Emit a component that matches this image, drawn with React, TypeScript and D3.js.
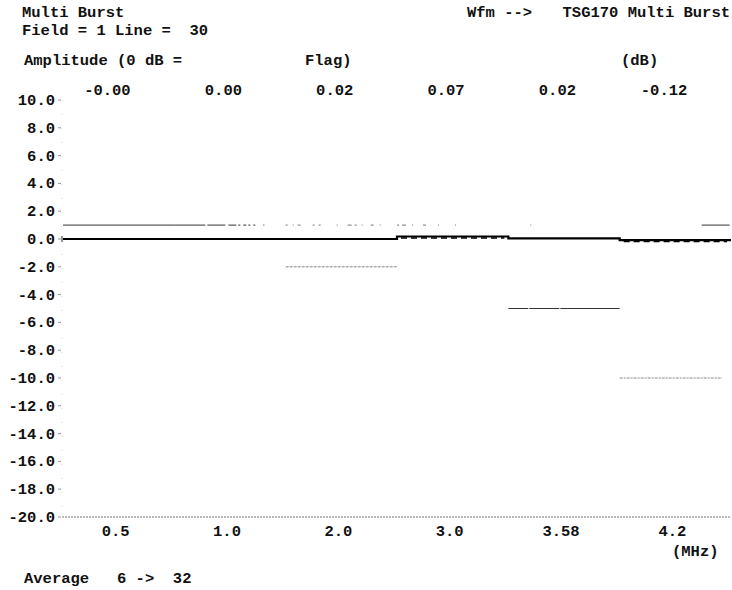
import React from 'react';
import * as d3 from 'd3';

// packets of the multi burst (MHz)
const packets = ['0.5', '1.0', '2.0', '3.0', '3.58', '4.2'];
// amplitude readouts printed above each packet (dB)
const readouts = ['-0.00', '0.00', '0.02', '0.07', '0.02', '-0.12'];
const traceLevels = [0, 0, 0, 0.18, 0.04, -0.08];
// limit lines (dB)
const upperLimit = [1, 1, 1, 1, 1, 1];
const lowerLimit = [null, null, -2, null, -5, -10];
// y axis ticks
const yTicks = d3.range(10, -21, -2);

const W = 732;
const H = 590;
const font = '"Liberation Mono", "Courier New", monospace';

// how the faded printout draws the upper limit in each packet
const upperDash = [
  'none',
  '31 2 18 3 8 2 2 3 3 2 2 3 2 8 1 30',
  '2 5 1 4 3 12 2 4 2 16 1 10 4 3 2 5 1 8 3 6 1 20',
  '2 3 4 6 1 10 3 12 1 16 1 80',
  '0 22 1 200',
  '0 82 28 10',
];
const lowerDash = [null, null, '3 1', null, '20 1 30 1 60', '3 1 2 1'];
const lowerColor = [null, null, '#888', null, '#333', '#888'];
const lowerTrim = [0, 0, 0, 0, 0, 9];

export default function App() {
  const x = d3.scaleBand().domain(packets).range([63, 731]);
  const y = d3.scaleLinear().domain([-20, 10]).range([517, 100]);
  const bw = x.bandwidth();

  // step trace through every packet
  const pts: [number, number][] = [];
  packets.forEach((p, i) => {
    pts.push([x(p)!, traceLevels[i]]);
    pts.push([x(p)! + bw, traceLevels[i]]);
  });
  const line = d3.line<[number, number]>().x(d => d[0]).y(d => y(d[1]));

  const txt = { fontFamily: font, fontSize: 15.5, fontWeight: 700, fill: '#111' } as const;

  return (
    <svg width={W} height={H} style={{ position: 'absolute', left: 0, top: 0, background: '#fff' }}>
      <text x={22} y={17} {...txt}>Multi Burst</text>
      <text x={467} y={17} {...txt} xmlSpace="preserve">{'Wfm -->'}</text>
      <text x={730} y={17} {...txt} textAnchor="end">TSG170 Multi Burst</text>
      <text x={22} y={35} {...txt} xmlSpace="preserve">{'Field = 1 Line =  30'}</text>
      <text x={24} y={65} {...txt} xmlSpace="preserve">{'Amplitude (0 dB ='}</text>
      <text x={305} y={65} {...txt}>Flag)</text>
      <text x={621} y={65} {...txt}>(dB)</text>

      {/* readouts above packets */}
      {packets.map((p, i) => (
        <text key={'r' + p} x={x(p)! + bw / 2 + 12} y={95} {...txt} textAnchor="end">{readouts[i]}</text>
      ))}

      {/* y axis labels and ticks */}
      {yTicks.map(t => (
        <g key={'y' + t}>
          <text x={55} y={y(t) + 5} {...txt} textAnchor="end">{t.toFixed(1)}</text>
          <line x1={58} x2={61} y1={y(t)} y2={y(t)} stroke="#999" strokeWidth={1} />
        </g>
      ))}
      <line x1={62} x2={62} y1={y(10)} y2={y(-20)} stroke="#bbb" strokeWidth={0.6} strokeDasharray="1 13" />

      {/* bottom reference line at -20 dB */}
      <line x1={62} x2={731} y1={y(-20)} y2={y(-20)} stroke="#777" strokeWidth={1} strokeDasharray="2 1" />

      {/* upper limit */}
      {packets.map((p, i) => (
        <line key={'u' + p} x1={x(p)!} x2={x(p)! + bw} y1={y(upperLimit[i])} y2={y(upperLimit[i])}
          stroke={i < 2 || i === 5 ? '#333' : '#777'} strokeWidth={1}
          strokeDasharray={upperDash[i] === 'none' ? undefined : upperDash[i]} />
      ))}

      {/* lower limits */}
      {packets.map((p, i) => lowerLimit[i] === null ? null : (
        <line key={'l' + p} x1={x(p)!} x2={x(p)! + bw - lowerTrim[i]} y1={y(lowerLimit[i]!)} y2={y(lowerLimit[i]!)}
          stroke={lowerColor[i]!} strokeWidth={1} strokeDasharray={lowerDash[i]!} />
      ))}

      {/* measured trace */}
      <line x1={62} x2={62} y1={y(0) - 3} y2={y(0) + 3} stroke="#333" strokeWidth={1} />
      <path d={line(pts)!} fill="none" stroke="#000" strokeWidth={2.2} />
      {[3, 5].map(i => (
        <line key={'d' + i} x1={x(packets[i])! + 4} x2={x(packets[i])! + bw - 4}
          y1={y(traceLevels[i]) + 1.5} y2={y(traceLevels[i]) + 1.5}
          stroke="#000" strokeWidth={1.4} strokeDasharray="6 4" />
      ))}

      {/* x axis labels */}
      {packets.map(p => (
        <text key={'x' + p} x={x(p)! + bw / 2 - 3} y={536} {...txt} textAnchor="middle">{p}</text>
      ))}
      <text x={672} y={556} {...txt}>(MHz)</text>

      <text x={24} y={583} {...txt} xmlSpace="preserve">{'Average   6 ->  32'}</text>
    </svg>
  );
}
